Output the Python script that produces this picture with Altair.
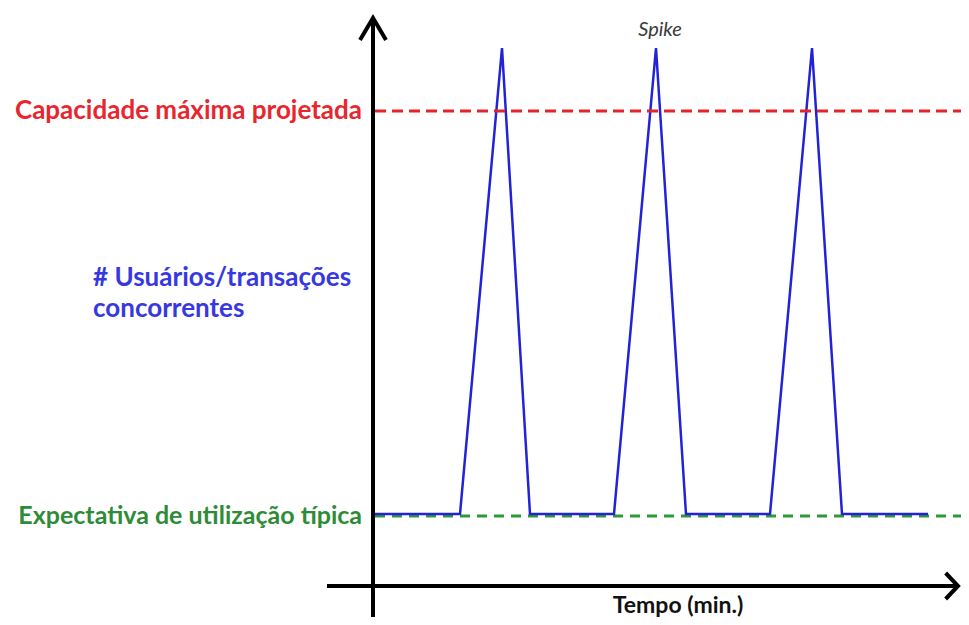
import altair as alt
import pandas as pd

# Blue series: concurrent users / transactions over time (arbitrary units)
time = [2, 87, 129, 157, 241, 283, 313, 397, 439, 469, 555]
users = [72, 72, 538, 72, 72, 538, 72, 72, 538, 72, 72]

# Reference levels
capacity_level = 475
typical_level = 70
level_start, level_end = 2, 588

# Axes extents (arbitrary units)
x_min, x_max = -365, 588
y_min, y_max = -31, 578
x_axis_start, x_axis_tip = -46, 585
y_axis_tip = 568

labels_capacity = "Capacidade máxima projetada"
labels_typical = "Expectativa de utilização típica"
label_users = ["# Usuários/transações", "concorrentes"]
label_spike = "Spike"
label_time = "Tempo (min.)"

W, H = 953, 609
xs = alt.Scale(domain=[x_min, x_max], nice=False, zero=False)
ys = alt.Scale(domain=[y_min, y_max], nice=False, zero=False)

series = pd.DataFrame({"t": time, "u": users})
levels = pd.DataFrame({
    "t": [level_start, level_start], "t2": [level_end, level_end],
    "u": [capacity_level, typical_level], "kind": ["cap", "typ"],
})

base = alt.Chart(series)

green = alt.Chart(levels[levels.kind == "typ"]).mark_rule(
    color="#2f9a35", strokeWidth=3, strokeDash=[10, 7]
).encode(x=alt.X("t:Q", scale=xs, axis=None), x2="t2:Q", y=alt.Y("u:Q", scale=ys, axis=None))

red = alt.Chart(levels[levels.kind == "cap"]).mark_rule(
    color="#e3242b", strokeWidth=3, strokeDash=[11, 6]
).encode(x=alt.X("t:Q", scale=xs, axis=None), x2="t2:Q", y=alt.Y("u:Q", scale=ys, axis=None))

blue = base.mark_line(color="#2323d6", strokeWidth=2.5).encode(
    x=alt.X("t:Q", scale=xs, axis=None), y=alt.Y("u:Q", scale=ys, axis=None)
)

axes_df = pd.DataFrame({
    "x": [x_axis_start, 0], "x2": [x_axis_tip, 0],
    "y": [0, y_min], "y2": [0, y_axis_tip],
})
axes = alt.Chart(axes_df).mark_rule(color="black", strokeWidth=4).encode(
    x=alt.X("x:Q", scale=xs, axis=None), x2="x2:Q",
    y=alt.Y("y:Q", scale=ys, axis=None), y2="y2:Q",
)

up_arrow = alt.Chart(pd.DataFrame({"x": [0], "y": [y_axis_tip]})).mark_point(
    shape="M-1,1.7 L0,0 L1,1.7", filled=False, stroke="black", strokeWidth=4,
    size=676, opacity=1, strokeJoin="miter"
).encode(x=alt.X("x:Q", scale=xs, axis=None), y=alt.Y("y:Q", scale=ys, axis=None))

right_arrow = alt.Chart(pd.DataFrame({"x": [x_axis_tip], "y": [0]})).mark_point(
    shape="M-0.95,-1 L0,0 L-0.95,1", filled=False, stroke="black", strokeWidth=4,
    size=676, opacity=1, strokeJoin="miter"
).encode(x=alt.X("x:Q", scale=xs, axis=None), y=alt.Y("y:Q", scale=ys, axis=None))

font = "Lato"

cap_text = alt.Chart(pd.DataFrame({"y": [capacity_level], "txt": [labels_capacity]})).mark_text(
    align="right", baseline="middle", font=font, fontWeight="bold", fontSize=26, color="#e8262e"
).encode(x=alt.value(354), y=alt.Y("y:Q", scale=ys, axis=None), text="txt:N")

typ_text = alt.Chart(pd.DataFrame({"y": [typical_level], "txt": [labels_typical]})).mark_text(
    align="right", baseline="middle", font=font, fontWeight="bold", fontSize=25, color="#2e8b37"
).encode(x=alt.value(354), y=alt.Y("y:Q", scale=ys, axis=None), text="txt:N")

users_line1 = alt.Chart(pd.DataFrame({"txt": [label_users[0]]})).mark_text(
    align="left", baseline="middle", font=font, fontWeight="bold", fontSize=26, color="#3838e0"
).encode(x=alt.value(85), y=alt.value(270), text="txt:N")

users_line2 = alt.Chart(pd.DataFrame({"txt": [label_users[1]]})).mark_text(
    align="left", baseline="middle", font=font, fontWeight="bold", fontSize=26, color="#3838e0"
).encode(x=alt.value(85), y=alt.value(301), text="txt:N")

spike_text = alt.Chart(pd.DataFrame({"txt": [label_spike]})).mark_text(
    align="center", baseline="middle", font=font, fontStyle="italic", fontSize=20, color="#3a3a3a"
).encode(x=alt.value(652), y=alt.value(22), text="txt:N")

time_text = alt.Chart(pd.DataFrame({"txt": [label_time]})).mark_text(
    align="center", baseline="middle", font=font, fontWeight="bold", fontSize=23, color="#111111"
).encode(x=alt.value(670), y=alt.value(598), text="txt:N")

chart = alt.layer(
    green, blue, red, axes, up_arrow, right_arrow,
    cap_text, typ_text, users_line1, users_line2, spike_text, time_text,
).properties(width=W, height=H, padding=0, autosize="none").configure_view(stroke=None)

chart.save("out.html", embed_options={"renderer": "svg", "actions": False})
